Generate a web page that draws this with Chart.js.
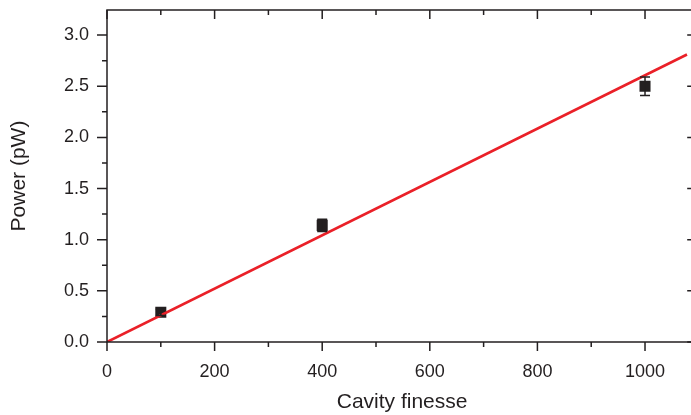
<!DOCTYPE html>
<html>
<head>
<meta charset="utf-8">
<script src="https://cdn.jsdelivr.net/npm/chart.js@4/dist/chart.umd.min.js"></script>
<style>
 html, body { margin: 0; padding: 0; background: #fff; overflow: hidden; }
 #wrap { width: 705px; height: 415px; }
</style>
</head>
<body>
<div id="wrap"><canvas id="chart"></canvas></div>
<script>
// measured points
const finesse = [100, 400, 1000];
const power = [0.29, 1.14, 2.5];
const powerErr = [0.03, 0.06, 0.09];

// linear fit
const fitX = [0, 1078];
const fitY = [0, 2.81];

// ticks
const xMajor = [0, 200, 400, 600, 800, 1000];
const xMinor = [100, 300, 500, 700, 900];
const yMajor = [0, 0.5, 1.0, 1.5, 2.0, 2.5, 3.0];
const yMinor = [0.25, 0.75, 1.25, 1.75, 2.25, 2.75];

const ink = "#231f20";
const font = "'Liberation Sans', Arial, sans-serif";

// error bars, tick marks and frame
const frame = {
 id: "frame",
 afterDatasetsDraw(chart) {
  const ctx = chart.ctx;
  const a = chart.chartArea;
  const xs = chart.scales.x, ys = chart.scales.y;
  ctx.save();
  ctx.strokeStyle = ink;
  ctx.lineWidth = 1.5;

  // error bars
  finesse.forEach((f, i) => {
   const px = xs.getPixelForValue(f);
   const top = ys.getPixelForValue(power[i] + powerErr[i]);
   const bot = ys.getPixelForValue(power[i] - powerErr[i]);
   ctx.beginPath();
   ctx.moveTo(px, top); ctx.lineTo(px, bot);
   ctx.moveTo(px - 5, top); ctx.lineTo(px + 5, top);
   ctx.moveTo(px - 5, bot); ctx.lineTo(px + 5, bot);
   ctx.stroke();
  });

  // frame
  ctx.beginPath();
  ctx.rect(a.left, a.top, a.right - a.left, a.bottom - a.top);
  ctx.stroke();

  const tick = (list, len) => {
   ctx.beginPath();
   list.forEach(v => {
    const px = xs.getPixelForValue(v);
    ctx.moveTo(px, a.bottom); ctx.lineTo(px, a.bottom + len);
    ctx.moveTo(px, a.top); ctx.lineTo(px, a.top + len);
   });
   ctx.stroke();
  };
  const ytick = (list, len) => {
   ctx.beginPath();
   list.forEach(v => {
    const py = ys.getPixelForValue(v);
    ctx.moveTo(a.left, py); ctx.lineTo(a.left - len, py);
    ctx.moveTo(a.right, py); ctx.lineTo(a.right - len, py);
   });
   ctx.stroke();
  };
  tick(xMajor, 9); tick(xMinor, 5);
  ytick(yMajor, 10); ytick(yMinor, 5);
  ctx.restore();
 }
};

new Chart(document.getElementById("chart"), {
 type: "scatter",
 data: {
  datasets: [
   {
    type: "line",
    data: fitX.map((x, i) => ({ x: x, y: fitY[i] })),
    borderColor: "#ea2028",
    borderWidth: 2.6,
    pointRadius: 0,
    fill: false
   },
   {
    data: finesse.map((x, i) => ({ x: x, y: power[i] })),
    pointStyle: "rect",
    pointRadius: 7.8,
    backgroundColor: "#231f20",
    borderColor: "#231f20",
    borderWidth: 0
   }
  ]
 },
 options: {
  responsive: true,
  maintainAspectRatio: false,
  animation: false,
  layout: { padding: { top: 10, right: 0, left: 0, bottom: 0 } },
  plugins: { legend: { display: false }, tooltip: { enabled: false } },
  scales: {
   x: {
    type: "linear",
    min: 0,
    max: 1097,
    afterBuildTicks: s => { s.ticks = xMajor.map(v => ({ value: v })); },
    afterFit: s => { s.height = 73; s.paddingLeft = 0; s.paddingRight = 0; },
    grid: { display: false, drawTicks: false },
    border: { display: false },
    ticks: { color: ink, font: { family: font, size: 18 }, padding: 19, maxRotation: 0, callback: v => v },
    title: { display: true, text: "Cavity finesse", color: ink, font: { family: font, size: 21 }, padding: { top: 0, bottom: 0 } }
   },
   y: {
    type: "linear",
    min: 0,
    max: 3.245,
    afterBuildTicks: s => { s.ticks = yMajor.map(v => ({ value: v })); },
    afterFit: s => { s.width = 107; s.paddingTop = 0; s.paddingBottom = 0; },
    grid: { display: false, drawTicks: false },
    border: { display: false },
    ticks: { color: ink, font: { family: font, size: 18 }, padding: 18, callback: v => v.toFixed(1) },
    title: { display: true, text: "Power (pW)", color: ink, font: { family: font, size: 21 }, padding: { top: 7, bottom: 0 } }
   }
  }
 },
 plugins: [frame]
});
</script>
</body>
</html>
